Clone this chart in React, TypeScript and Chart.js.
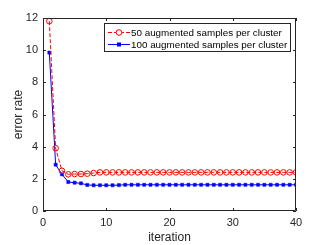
import React, { useEffect, useRef } from "react";
import { Chart, registerables } from "chart.js";

Chart.register(...registerables);

const iterations = Array.from({ length: 40 }, (_, i) => i + 1);
const series50 = [
  11.8, 3.9, 2.5, 2.28, 2.3, 2.3, 2.32, 2.36, 2.4, 2.4,
  2.4, 2.4, 2.4, 2.4, 2.4, 2.4, 2.4, 2.4, 2.4, 2.4,
  2.4, 2.4, 2.4, 2.4, 2.4, 2.4, 2.4, 2.4, 2.4, 2.4,
  2.4, 2.4, 2.4, 2.4, 2.4, 2.4, 2.4, 2.4, 2.4, 2.4,
];
const series100 = [
  9.85, 2.88, 2.28, 1.8, 1.76, 1.72, 1.62, 1.6, 1.6, 1.6,
  1.6, 1.61, 1.63, 1.63, 1.63, 1.63, 1.63, 1.63, 1.63, 1.63,
  1.63, 1.63, 1.63, 1.63, 1.63, 1.63, 1.63, 1.63, 1.63, 1.63,
  1.63, 1.63, 1.63, 1.63, 1.63, 1.63, 1.63, 1.63, 1.63, 1.63,
];
const seriesLabels = [
  "50 augmented samples per cluster",
  "100 augmented samples per cluster",
];
const xTicks = [0, 10, 20, 30, 40];
const yTicks = [0, 2, 4, 6, 8, 10, 12];

const FONT = "'Liberation Sans', Arial, sans-serif";
const AXIS = "#262626";

const boxPlugin = {
  id: "matlabBox",
  afterDraw(chart: any) {
    const ctx = chart.ctx;
    const { left, right, top, bottom } = chart.chartArea;
    const xs = chart.scales.x;
    const ys = chart.scales.y;
    ctx.save();
    ctx.strokeStyle = AXIS;
    ctx.lineWidth = 1;
    ctx.beginPath();
    ctx.rect(left + 0.5, top + 0.5, right - left - 1, bottom - top - 1);
    ctx.stroke();
    ctx.beginPath();
    const tl = 3;
    xTicks.forEach((v) => {
      const px = Math.round(xs.getPixelForValue(v)) + 0.5;
      ctx.moveTo(px, bottom);
      ctx.lineTo(px, bottom - tl);
      ctx.moveTo(px, top);
      ctx.lineTo(px, top + tl);
    });
    yTicks.forEach((v) => {
      const py = Math.round(ys.getPixelForValue(v)) + 0.5;
      ctx.moveTo(left, py);
      ctx.lineTo(left + tl, py);
      ctx.moveTo(right, py);
      ctx.lineTo(right - tl, py);
    });
    ctx.stroke();

    // legend
    const lx = 104.5, ly = 23.5, lw = 186, lh = 28;
    ctx.fillStyle = "#ffffff";
    ctx.fillRect(lx, ly, lw, lh);
    ctx.strokeStyle = AXIS;
    ctx.strokeRect(lx, ly, lw, lh);
    let size = 11;
    ctx.font = `${size}px ${FONT}`;
    const w = ctx.measureText(seriesLabels[0]).width;
    size = Math.max(8, size * 151 / w);
    ctx.font = `${size.toFixed(2)}px ${FONT}`;
    ctx.textBaseline = "middle";
    ctx.textAlign = "left";
    const rows = [32.5, 44.5];
    chart.data.datasets.forEach((ds: any, i: number) => {
      const y = rows[i];
      ctx.strokeStyle = ds.borderColor;
      ctx.lineWidth = 1;
      ctx.setLineDash(ds.borderDash || []);
      ctx.beginPath();
      ctx.moveTo(108, y);
      ctx.lineTo(130, y);
      ctx.stroke();
      ctx.setLineDash([]);
      if (ds.pointStyle === "circle") {
        ctx.beginPath();
        ctx.arc(119, y, 2.8, 0, Math.PI * 2);
        ctx.fillStyle = "#ffffff";
        ctx.fill();
        ctx.stroke();
      } else {
        ctx.fillStyle = ds.pointBackgroundColor;
        ctx.fillRect(117, y - 2, 4, 4);
      }
      ctx.fillStyle = "#000000";
      ctx.fillText(seriesLabels[i], 131, y + 0.5);
    });
    ctx.restore();
  },
};

export default function App() {
  const ref = useRef<HTMLCanvasElement>(null);
  useEffect(() => {
    if (!ref.current) return;
    const chart = new Chart(ref.current, {
      type: "line",
      data: {
        labels: iterations,
        datasets: [
          {
            label: seriesLabels[0],
            data: iterations.map((x, i) => ({ x, y: series50[i] })),
            borderColor: "#ff0000",
            borderWidth: 1,
            borderDash: [4, 2],
            pointStyle: "circle",
            pointRadius: 2.8,
            pointBorderWidth: 1,
            pointBorderColor: "#ff0000",
            pointBackgroundColor: "rgba(255,255,255,0)",
            tension: 0,
          },
          {
            label: seriesLabels[1],
            data: iterations.map((x, i) => ({ x, y: series100[i] })),
            borderColor: "#0000ff",
            borderWidth: 1,
            pointStyle: "rect",
            pointRadius: 2.2,
            pointBorderWidth: 0.5,
            pointBorderColor: "#0000ff",
            pointBackgroundColor: "#0000ff",
            tension: 0,
          },
        ],
      },
      options: {
        animation: false,
        responsive: false,
        devicePixelRatio: 1,
        layout: { padding: { left: 0, right: 31, top: 18, bottom: 0 } },
        plugins: { legend: { display: false }, tooltip: { enabled: false } },
        scales: {
          x: {
            type: "linear",
            min: 0,
            max: 40,
            afterFit: (s: any) => { s.height = 34; },
            afterBuildTicks: (s: any) => { s.ticks = xTicks.map((v) => ({ value: v })); },
            grid: { display: false, drawTicks: false },
            border: { display: false },
            ticks: { color: AXIS, font: { family: FONT, size: 11 }, padding: 5, maxRotation: 0 },
            title: { display: true, text: "iteration", color: AXIS, font: { family: FONT, size: 12 }, padding: { top: 0, bottom: 0 } },
          },
          y: {
            min: 0,
            max: 12,
            afterFit: (s: any) => { s.width = 43; },
            afterBuildTicks: (s: any) => { s.ticks = yTicks.map((v) => ({ value: v })); },
            grid: { display: false, drawTicks: false },
            border: { display: false },
            ticks: { color: AXIS, font: { family: FONT, size: 11 }, padding: 5 },
            title: { display: true, text: "error rate", color: AXIS, font: { family: FONT, size: 12 }, padding: { top: 11, bottom: 0 } },
          },
        },
      },
      plugins: [boxPlugin],
    });
    return () => chart.destroy();
  }, []);
  return (
    <div style={{ position: "fixed", left: 0, top: 0, width: 327, height: 245, background: "#fff" }}>
      <canvas ref={ref} width={327} height={245} style={{ width: 327, height: 245, display: "block" }} />
    </div>
  );
}
